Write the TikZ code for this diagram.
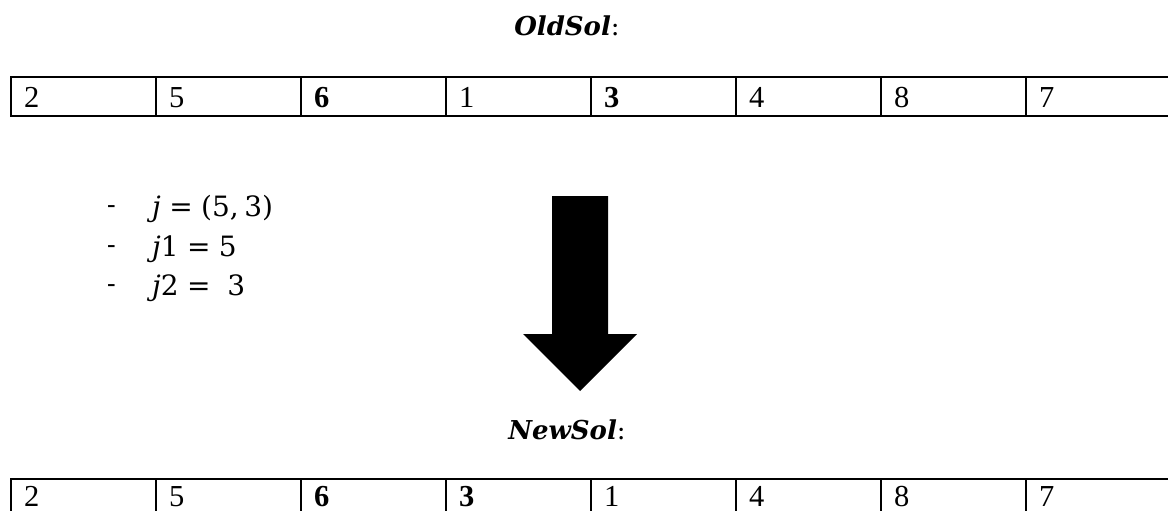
\documentclass[tikz,border=0pt]{standalone}
\usepackage{fontspec}
\setmainfont{Liberation Serif}
\newfontfamily\titlefont{DejaVu Serif}
\newfontfamily\dashfont{Carlito}
\newcommand{\eqs}{\hspace{0.3em}=\hspace{0.3em}}
\begin{document}
\begin{tikzpicture}[x=1pt,y=1pt,
  cellline/.style={line width=1.7pt},
  digit/.style={anchor=base west, inner sep=0pt, font=\fontsize{30.5}{36}\selectfont},
  bdigit/.style={digit, font=\fontsize{30.5}{36}\selectfont\bfseries},
  title/.style={anchor=base, inner sep=0pt, font=\fontsize{26}{32}\selectfont\titlefont},
  item/.style={anchor=base west, inner sep=0pt, font=\fontsize{28}{34}\selectfont\titlefont},
  dashmark/.style={anchor=base west, inner sep=0pt, font=\fontsize{28}{34}\selectfont\dashfont}]
\useasboundingbox (0,0) rectangle (1168,-511);
\clip (0,0) rectangle (1168,-511);

% titles
\node[title] (oldsol) at (567,-36) {\textbf{\textit{OldSol}}:};
\node[title] (newsol) at (567,-439) {\textbf{\textit{NewSol}}:};

% top table
\draw[cellline] (11,-77) rectangle (1171,-116);
\foreach \i in {1,...,7} \draw[cellline] ({11+145*\i},-77) -- ({11+145*\i},-116);
\node[digit]  (t1) at (24,-107) {2};
\node[digit]  (t2) at (169,-107) {5};
\node[bdigit] (t3) at (314,-107) {6};
\node[digit]  (t4) at (459,-107) {1};
\node[bdigit] (t5) at (604,-107) {3};
\node[digit]  (t6) at (749,-107) {4};
\node[digit]  (t7) at (894,-107) {8};
\node[digit]  (t8) at (1039,-107) {7};

% bottom table
\draw[cellline] (11,-479) rectangle (1171,-518);
\foreach \i in {1,...,7} \draw[cellline] ({11+145*\i},-479) -- ({11+145*\i},-518);
\node[digit]  (b1) at (24,-506) {2};
\node[digit]  (b2) at (169,-506) {5};
\node[bdigit] (b3) at (314,-506) {6};
\node[bdigit] (b4) at (459,-506) {3};
\node[digit]  (b5) at (604,-506) {1};
\node[digit]  (b6) at (749,-506) {4};
\node[digit]  (b7) at (894,-506) {8};
\node[digit]  (b8) at (1039,-506) {7};

% list
\node[dashmark] (d1) at (107,-214) {-};
\node[dashmark] (d2) at (107,-254) {-};
\node[dashmark] (d3) at (107,-293) {-};
\node[item] (l1) at (152,-216) {\textit{j}\eqs(5,\hspace{0.2em}3)};
\node[item] (l2) at (152,-256) {\textit{j}1\eqs5};
\node[item] (l3) at (152,-295) {\textit{j}2\eqs\hspace{0.3em}3};

% big arrow
\fill (552,-196) -- (608,-196) -- (608,-334) -- (637,-334) -- (580,-391)
      -- (523,-334) -- (552,-334) -- cycle;
\end{tikzpicture}
\end{document}
